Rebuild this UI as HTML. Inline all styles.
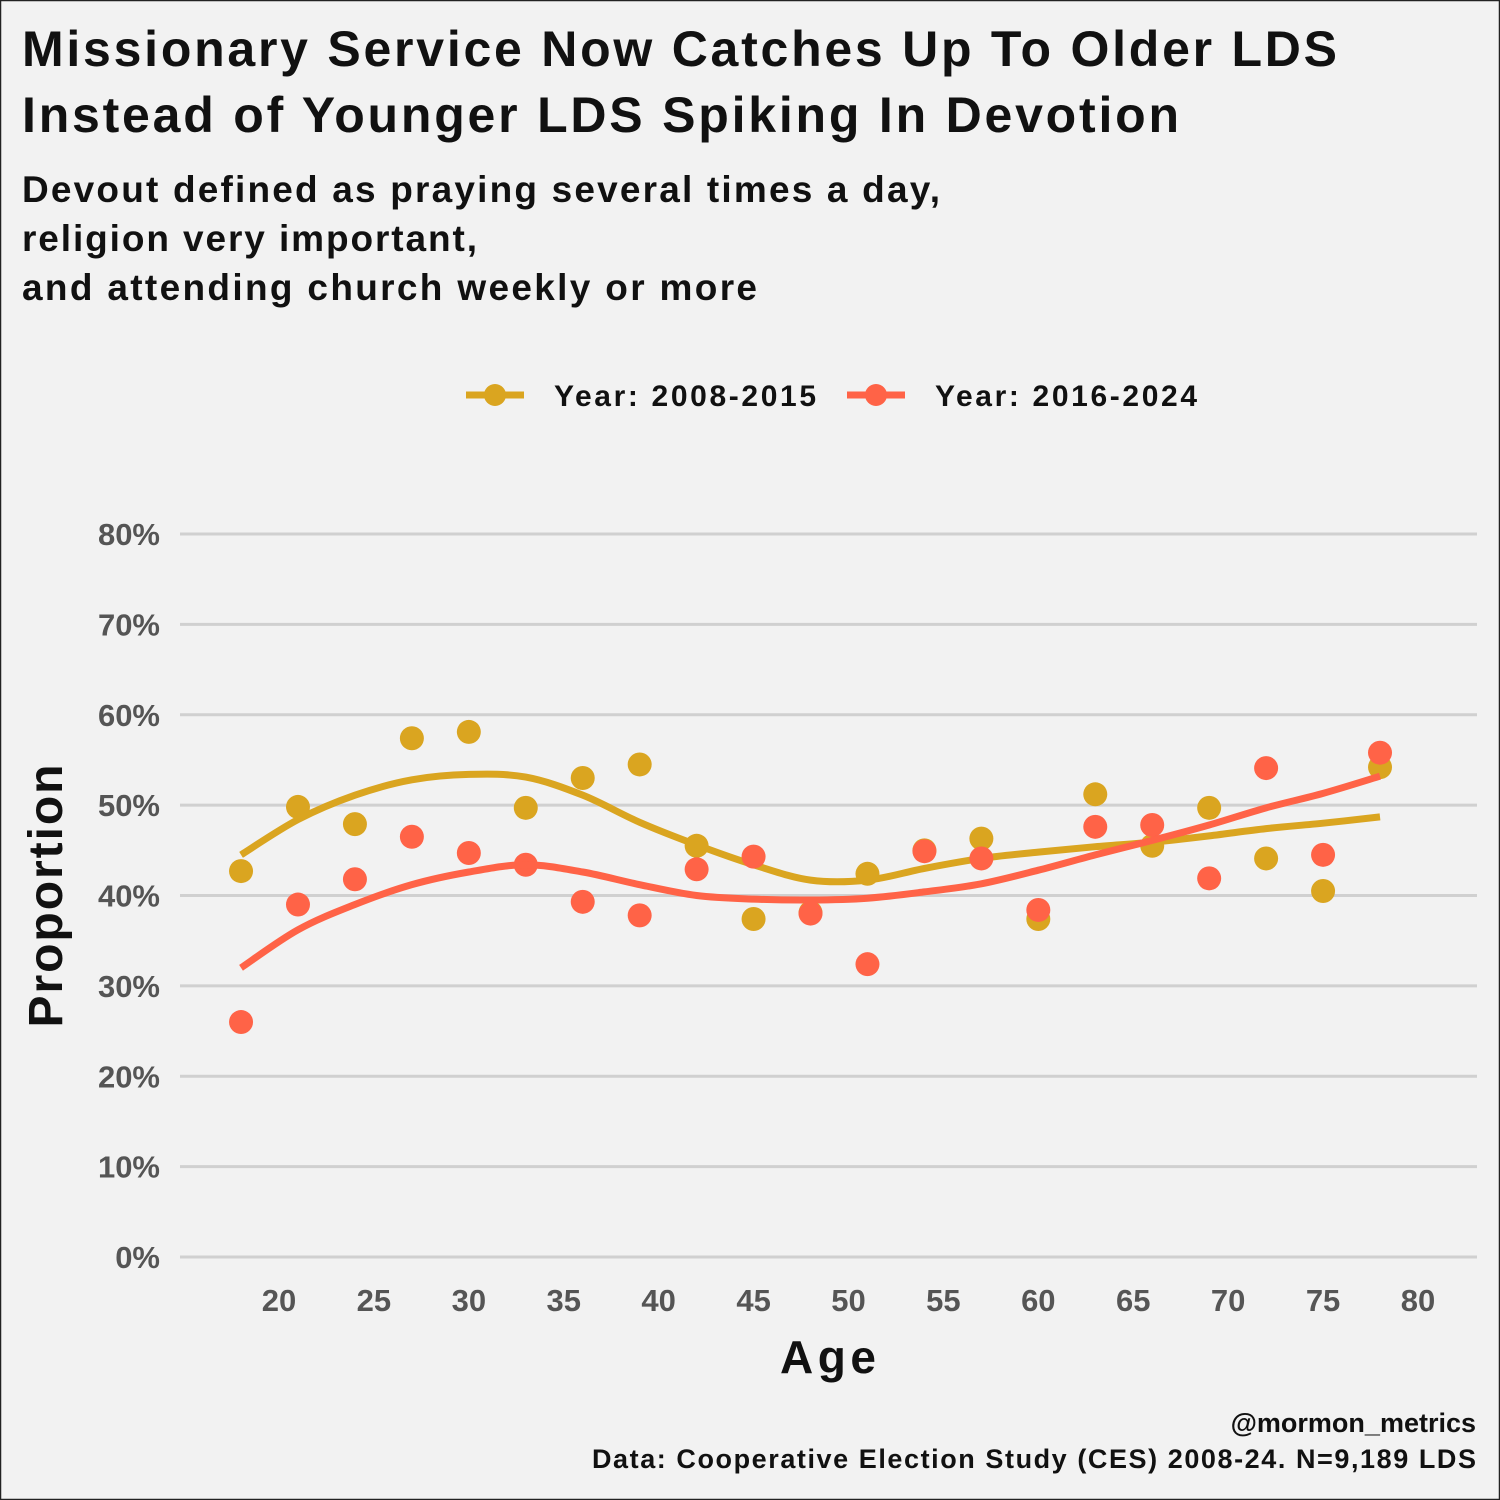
<!DOCTYPE html>
<html><head><meta charset="utf-8"><style>
body{margin:0;background:#f2f2f2;}
svg{display:block;font-family:"Liberation Sans",sans-serif;}
</style></head><body>
<svg id="chart" width="1500" height="1500" viewBox="0 0 1500 1500">
<rect x="0.5" y="0.5" width="1499" height="1499" fill="#f2f2f2" stroke="#222" stroke-width="1.5"/>
<text x="22" y="66" font-size="50" font-weight="bold" fill="#111" textLength="1315">Missionary Service Now Catches Up To Older LDS</text>
<text x="22" y="132" font-size="50" font-weight="bold" fill="#111" textLength="1157">Instead of Younger LDS Spiking In Devotion</text>
<text x="22" y="202" font-size="37" font-weight="bold" fill="#111" textLength="918">Devout defined as praying several times a day,</text>
<text x="22" y="251" font-size="37" font-weight="bold" fill="#111" textLength="455">religion very important,</text>
<text x="22" y="300" font-size="37" font-weight="bold" fill="#111" textLength="735">and attending church weekly or more</text>
<g>
<g>
<line x1="466" y1="395" x2="524" y2="395" stroke="#DAA520" stroke-width="7"/><circle cx="495" cy="395" r="11" fill="#DAA520"/>
<text x="554" y="406" font-size="30" font-weight="bold" fill="#111" textLength="262">Year: 2008-2015</text></g>
<g>
<line x1="847" y1="395" x2="905" y2="395" stroke="#FF6347" stroke-width="7"/><circle cx="876" cy="395" r="11" fill="#FF6347"/>
<text x="935" y="406" font-size="30" font-weight="bold" fill="#111" textLength="262">Year: 2016-2024</text></g>
</g>
<g id="grid"></g>
<g id="yaxis"></g>
<g id="xaxis"></g>
<g id="series"></g>
<text x="0" y="0" transform="translate(62,896) rotate(-90)" text-anchor="middle" font-size="48" font-weight="bold" fill="#111" textLength="263">Proportion</text>
<text x="828" y="1373" text-anchor="middle" font-size="46" font-weight="bold" fill="#111" textLength="96">Age</text>
<text x="1476" y="1432" text-anchor="end" font-size="27" font-weight="bold" fill="#111">@mormon_metrics</text>
<text x="1476" y="1468" text-anchor="end" font-size="27" font-weight="bold" fill="#111" textLength="884">Data: Cooperative Election Study (CES) 2008-24. N=9,189 LDS</text>
</svg>
<script>
const ages=[18,21,24,27,30,33,36,39,42,45,48,51,54,57,60,63,66,69,72,75,78];
const gold=[42.7,49.8,47.9,57.4,58.1,49.7,53.0,54.5,45.5,37.4,38.1,42.4,45.0,46.3,37.4,51.2,45.5,49.7,44.1,40.5,54.2];
const red=[26.0,39.0,41.8,46.5,44.7,43.4,39.3,37.8,42.9,44.3,38.0,32.4,44.9,44.1,38.4,47.6,47.8,41.9,54.1,44.5,55.8];
const goldSmooth=[44.5,48.4,51.1,52.8,53.4,53.1,51.1,48.1,45.6,43.4,41.7,41.7,43.0,44.1,44.8,45.4,45.9,46.6,47.4,48.0,48.7];
const redSmooth=[32.0,36.2,39.0,41.2,42.6,43.4,42.6,41.2,40.0,39.6,39.5,39.7,40.4,41.3,42.8,44.5,46.1,47.8,49.7,51.3,53.2];
const yTicks=[0,10,20,30,40,50,60,70,80];
const xTicks=[20,25,30,35,40,45,50,55,60,65,70,75,80];
const NS="http://www.w3.org/2000/svg";
const X=a=>279+(a-20)*18.983;
const Y=v=>1257-v*9.0375;
function mk(tag,attrs,parent){const e=document.createElementNS(NS,tag);for(const k in attrs)e.setAttribute(k,attrs[k]);parent.appendChild(e);return e;}
const grid=document.getElementById('grid'),ya=document.getElementById('yaxis'),xa=document.getElementById('xaxis'),ser=document.getElementById('series');
yTicks.forEach(t=>{
 const l=mk('line',{x1:180,x2:1477,y1:Y(t),y2:Y(t),stroke:'#d0d0d0','stroke-width':3},grid);
 
 
 const tx=mk('text',{x:160,y:Y(t)+11,'text-anchor':'end','font-size':31,'font-weight':'bold',fill:'#555'},ya);
 tx.textContent=t+'%';
 
 
});
xTicks.forEach(t=>{
 const tx=mk('text',{x:X(t),y:1311,'text-anchor':'middle','font-size':31,'font-weight':'bold',fill:'#555'},xa);
 tx.textContent=t;
 
 
});
function smoothPath(xs,ys){
 const p=xs.map((a,i)=>[X(a),Y(ys[i])]);
 let d='M'+p[0][0]+','+p[0][1];
 for(let i=0;i<p.length-1;i++){
  const p0=p[Math.max(0,i-1)],p1=p[i],p2=p[i+1],p3=p[Math.min(p.length-1,i+2)];
  const c1=[p1[0]+(p2[0]-p0[0])/6,p1[1]+(p2[1]-p0[1])/6];
  const c2=[p2[0]-(p3[0]-p1[0])/6,p2[1]-(p3[1]-p1[1])/6];
  d+=' C'+c1+' '+c2+' '+p2;
 }
 return d;
}
function drawSeries(vals,sm,color,name){
 vals.forEach((v,i)=>{
  const c=mk('circle',{cx:X(ages[i]),cy:Y(v),r:12,fill:color},ser);
  
  
 });
 const p=mk('path',{d:smoothPath(ages,sm),fill:'none',stroke:color,'stroke-width':7},ser);
 
 
}
drawSeries(gold,goldSmooth,'#DAA520','series-2008-2015');
drawSeries(red,redSmooth,'#FF6347','series-2016-2024');
</script>
</body></html>
